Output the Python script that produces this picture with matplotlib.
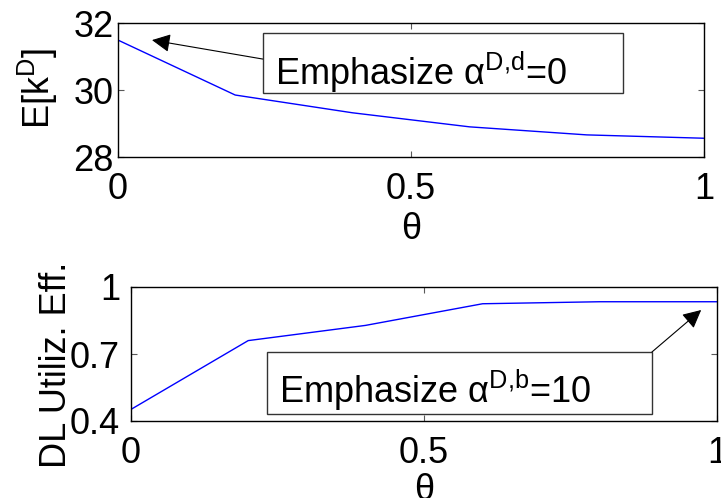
import matplotlib
matplotlib.use("Agg")
import matplotlib.pyplot as plt
from matplotlib.patches import Rectangle

# Данные
theta = [0, 0.2, 0.4, 0.6, 0.8, 1.0]
e_kd = [31.49, 29.85, 29.32, 28.90, 28.66, 28.56]
dl_eff = [0.452, 0.760, 0.828, 0.925, 0.934, 0.934]

top_yticks = [28, 30, 32]
bot_yticks = [0.4, 0.7, 1]
xticks = [0, 0.5, 1]

plt.rcParams['font.family'] = ['Liberation Sans', 'DejaVu Sans']
plt.rcParams['mathtext.fontset'] = 'custom'
plt.rcParams['mathtext.rm'] = 'Liberation Sans'
plt.rcParams['mathtext.it'] = 'Liberation Sans'
plt.rcParams['mathtext.default'] = 'regular'

fs = 26
fig = plt.figure(figsize=(7.21, 4.98), dpi=100)

ax1 = fig.add_axes([118 / 721, 1 - 157 / 498, 586 / 721, 134 / 498])
ax2 = fig.add_axes([131 / 721, 1 - 421 / 498, 586 / 721, 134 / 498])


def style(ax, yticks, ypad):
    ax.set_xlim(0, 1)
    ax.set_xticks(xticks)
    ax.set_xticklabels(['0', '0.5', '1'])
    ax.set_yticks(yticks)
    ax.tick_params(direction='in', length=4.5, width=0.8, color='0.35',
                   top=True, right=True, labelsize=fs)
    ax.tick_params(axis='x', pad=11)
    ax.tick_params(axis='y', pad=ypad)
    for s in ax.spines.values():
        s.set_linewidth(1.0)


# Верхний график
ax1.plot(theta, e_kd, color='blue', lw=1)
ax1.set_ylim(28, 32)
style(ax1, top_yticks, 3)
ax1.set_yticklabels(['28', '30', '32'])
ax1.set_xlabel('θ', fontsize=fs)
ax1.xaxis.set_label_coords(0.5, -0.41)
ax1.set_ylabel(r'E[k$^D$]', fontsize=fs)
ax1.yaxis.set_label_coords(-0.099, 0.515)

ax1.add_patch(Rectangle((0.247, 0.478), 0.615, 0.447, transform=ax1.transAxes,
                        facecolor='white', edgecolor='0.2', lw=1, zorder=3))
ax1.text(0.268, 0.537, r'Emphasize $\alpha^{D{,}d}$=0', transform=ax1.transAxes,
         fontsize=fs, va='baseline', ha='left', zorder=4)
ax1.annotate('', xy=(0.058, 31.49), xytext=(0.247, 0.731),
             textcoords='axes fraction',
             arrowprops=dict(arrowstyle='-|>', color='k', lw=0.8,
                             mutation_scale=28, shrinkA=0, shrinkB=0))

# Нижний график
ax2.plot(theta, dl_eff, color='blue', lw=1)
ax2.set_ylim(0.4, 1)
style(ax2, bot_yticks, 8)
ax2.set_yticklabels(['0.4', '0.7', '1'])
ax2.set_xlabel('θ', fontsize=fs)
ax2.xaxis.set_label_coords(0.5, -0.385)
ax2.set_ylabel('DL Utiliz. Eff.', fontsize=fs)
ax2.yaxis.set_label_coords(-0.097, 0.418)

ax2.add_patch(Rectangle((0.232, 0.052), 0.657, 0.463, transform=ax2.transAxes,
                        facecolor='white', edgecolor='0.2', lw=1, zorder=3))
ax2.text(0.253, 0.134, r'Emphasize $\alpha^{D{,}b}$=10', transform=ax2.transAxes,
         fontsize=fs, va='baseline', ha='left', zorder=4)
ax2.annotate('', xy=(0.973, 0.897), xytext=(0.889, 0.515),
             textcoords='axes fraction',
             arrowprops=dict(arrowstyle='-|>', color='k', lw=0.8,
                             mutation_scale=28, shrinkA=0, shrinkB=0))

plt.savefig('out.png', dpi=100)
